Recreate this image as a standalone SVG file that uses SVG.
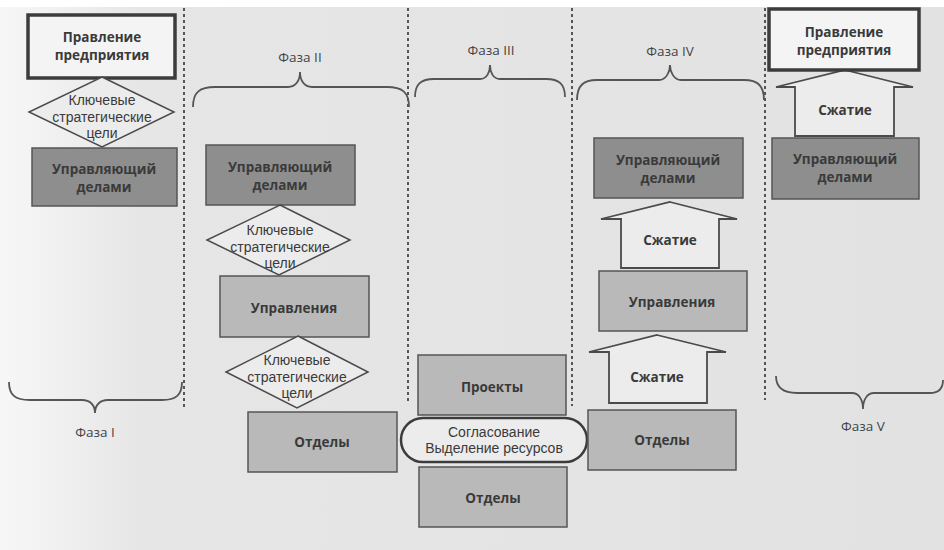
<svg xmlns="http://www.w3.org/2000/svg" width="944" height="550" viewBox="0 0 944 550">
<defs>
<linearGradient id="bg" x1="0" y1="0" x2="1" y2="0">
<stop offset="0" stop-color="#f7f7f7"/>
<stop offset="0.15" stop-color="#e6e6e6"/>
<stop offset="1" stop-color="#e2e2e2"/>
</linearGradient>
<style>
.t{font-family:"Open Sans","Noto Sans","Liberation Sans",sans-serif;fill:#3a3a3a;text-anchor:middle}
.b{font-weight:bold;font-size:13.5px}
.r{font-size:13.5px}
.d{font-family:"Liberation Sans","Open Sans",sans-serif;font-size:14px}
.ph{font-size:13.5px;fill:#444}
.top{fill:#f4f4f4;stroke:#3c3c3c;stroke-width:3.5}
.dark{fill:#8e8e8e;stroke:#555;stroke-width:1.5}
.mid{fill:#b9b9b9;stroke:#555;stroke-width:1.5}
.dia{fill:#ececec;stroke:#4a4a4a;stroke-width:1.5}
.arr{fill:#ececec;stroke:#4a4a4a;stroke-width:1.8;stroke-linejoin:miter}
.dash{stroke:#555;stroke-width:2;stroke-dasharray:3 3;fill:none}
.brace{fill:none;stroke:#555;stroke-width:1.8}
.oval{fill:#ececec;stroke:#3c3c3c;stroke-width:2.5}
</style>
</defs>
<rect width="944" height="550" fill="url(#bg)"/>
<rect width="944" height="7" fill="#ffffff"/>

<g id="dividers">
<line class="dash" x1="184" y1="8" x2="184" y2="407"/>
<line class="dash" x1="408" y1="8" x2="408" y2="404"/>
<line class="dash" x1="572" y1="8" x2="572" y2="406"/>
<line class="dash" x1="765" y1="8" x2="765" y2="400"/>
</g>

<g id="phases">
<path class="brace" d="M9,382 C9,395 15,400 30,400 L82,400 C90,400 95,405 95,413 C95,405 100,400 108,400 L162,400 C176,400 182,395 182,382"/>
<text class="t ph" x="95" y="437">Фаза I</text>
<path class="brace" d="M193,107 C193,92 200,87 215,87 L288,87 C296,87 300,80 300,72 C300,80 304,87 312,87 L387,87 C402,87 409,92 409,107"/>
<text class="t ph" x="300" y="62">Фаза II</text>
<path class="brace" d="M415,97 C415,84 421,79 434,79 L480,79 C487,79 490,72 490,65 C490,72 493,79 500,79 L546,79 C559,79 565,84 565,97"/>
<text class="t ph" x="491" y="55">Фаза III</text>
<path class="brace" d="M577,100 C577,86 583,80 597,80 L659,80 C666,80 670,72 670,65 C670,72 674,80 681,80 L744,80 C758,80 764,86 764,100"/>
<text class="t ph" x="670" y="56">Фаза IV</text>
<path class="brace" d="M776,376 C776,388 783,393 797,393 L852,393 C859,393 863,400 863,409 C863,400 867,393 874,393 L930,393 C939,393 943,388 943,380"/>
<text class="t ph" x="863" y="431">Фаза V</text>
</g>

<g id="connectors">
<polygon class="arr" points="670,202 737,219 719,219 719,268 621,268 621,219 601,219"/>
<text class="t b" x="670" y="245">Сжатие</text>
<polygon class="arr" points="657,335 726,352 707,352 707,403 609,403 609,352 589,352"/>
<text class="t b" x="657" y="382">Сжатие</text>
<polygon class="arr" points="845,70 913,87 894,87 894,136 795,136 795,87 776,87"/>
<text class="t b" x="845" y="115">Сжатие</text>
</g>

<g id="p1-board">
<rect class="top" x="28" y="15" width="147" height="63"/>
<text class="t b" x="102" y="42">Правление</text>
<text class="t b" x="102" y="60">предприятия</text>
</g>
<g id="p1-goals">
<polygon class="dia" points="102,77 174,112 102,147 29,112"/>
<text class="t d" x="102" y="105">Ключевые</text>
<text class="t d" x="102" y="121.5">стратегические</text>
<text class="t d" x="102" y="138">цели</text>
</g>
<g id="p1-manager">
<rect class="dark" x="32" y="148" width="145" height="58"/>
<text class="t b" x="104" y="174">Управляющий</text>
<text class="t b" x="104" y="192">делами</text>
</g>

<g id="p2-manager">
<rect class="dark" x="206" y="145" width="149" height="60"/>
<text class="t b" x="280" y="172">Управляющий</text>
<text class="t b" x="280" y="190">делами</text>
</g>
<g id="p2-goals1">
<polygon class="dia" points="280,205 350,240 279,275 207,240"/>
<text class="t d" x="280" y="235">Ключевые</text>
<text class="t d" x="280" y="251.5">стратегические</text>
<text class="t d" x="280" y="268">цели</text>
</g>
<g id="p2-management">
<rect class="mid" x="220" y="276" width="149" height="61"/>
<text class="t b" x="294" y="313">Управления</text>
</g>
<g id="p2-goals2">
<polygon class="dia" points="298,336 368,372 297,408 226,372"/>
<text class="t d" x="297" y="365">Ключевые</text>
<text class="t d" x="297" y="381.5">стратегические</text>
<text class="t d" x="297" y="398">цели</text>
</g>
<g id="p2-departments">
<rect class="mid" x="248" y="412" width="149" height="60"/>
<text class="t b" x="322" y="447">Отделы</text>
</g>

<g id="p3-projects">
<rect class="mid" x="418" y="355" width="148" height="60"/>
<text class="t b" x="492" y="392">Проекты</text>
</g>
<g id="p3-coordination">
<rect class="oval" x="401" y="418" width="186" height="44" rx="22" ry="22"/>
<text class="t d" x="494" y="437">Согласование</text>
<text class="t d" x="494" y="453">Выделение ресурсов</text>
</g>
<g id="p3-departments">
<rect class="mid" x="419" y="467" width="148" height="60"/>
<text class="t b" x="493" y="503">Отделы</text>
</g>

<g id="p4-manager">
<rect class="dark" x="594" y="138" width="149" height="60"/>
<text class="t b" x="668" y="165">Управляющий</text>
<text class="t b" x="668" y="183">делами</text>
</g>
<g id="p4-management">
<rect class="mid" x="599" y="271" width="148" height="60"/>
<text class="t b" x="672" y="307">Управления</text>
</g>
<g id="p4-departments">
<rect class="mid" x="588" y="410" width="148" height="60"/>
<text class="t b" x="662" y="445">Отделы</text>
</g>

<g id="p5-board">
<rect class="top" x="769" y="9" width="150" height="61"/>
<text class="t b" x="844" y="37">Правление</text>
<text class="t b" x="844" y="55">предприятия</text>
</g>
<g id="p5-manager">
<rect class="dark" x="772" y="138" width="147" height="61"/>
<text class="t b" x="845" y="164">Управляющий</text>
<text class="t b" x="845" y="182">делами</text>
</g>
</svg>
